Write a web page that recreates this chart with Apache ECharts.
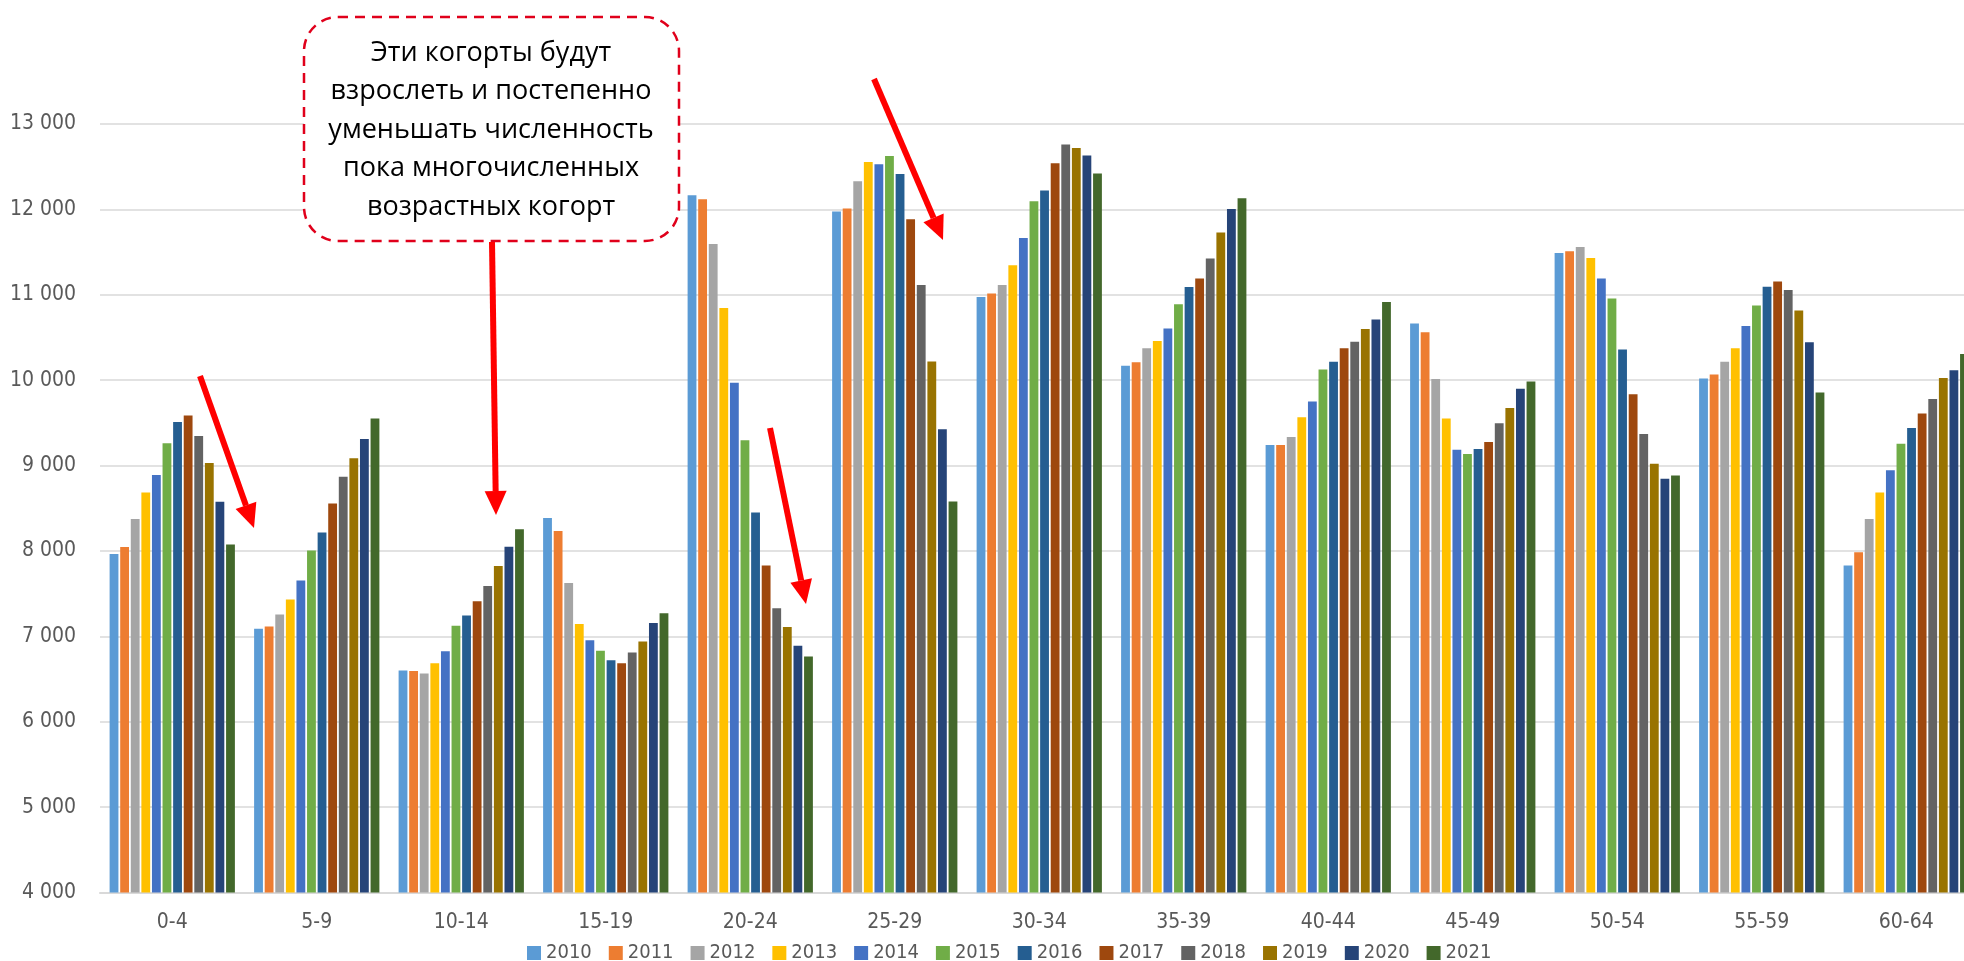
<!DOCTYPE html>
<html>
<head>
<meta charset="utf-8">
<script src="https://cdn.jsdelivr.net/npm/echarts@6/dist/echarts.min.js"></script>
<style>
  html, body { margin: 0; padding: 0; background: #fff; }
  #main { width: 1964px; height: 961px; }
</style>
</head>
<body>
<div id="main"></div>
<script>
// age groups on the x axis
var categories = ['0-4', '5-9', '10-14', '15-19', '20-24', '25-29', '30-34',
                  '35-39', '40-44', '45-49', '50-54', '55-59', '60-64'];
var years = ['2010', '2011', '2012', '2013', '2014', '2015',
             '2016', '2017', '2018', '2019', '2020', '2021'];

// values per year, one per age group
var y2010 = [7965, 7090, 6600, 8385, 12165, 11975, 10975, 10170, 9240, 10665, 11490, 10020, 7830];
var y2011 = [8045, 7115, 6595, 8235, 12120, 12010, 11015, 10210, 9240, 10560, 11510, 10065, 7985];
var y2012 = [8375, 7255, 6565, 7625, 11595, 12330, 11115, 10375, 9335, 10015, 11560, 10215, 8375];
var y2013 = [8685, 7430, 6685, 7145, 10845, 12555, 11345, 10460, 9565, 9550, 11430, 10375, 8685];
var y2014 = [8890, 7655, 6825, 6955, 9970, 12530, 11665, 10605, 9750, 9185, 11190, 10635, 8945];
var y2015 = [9260, 8005, 7125, 6830, 9295, 12625, 12095, 10890, 10125, 9135, 10955, 10875, 9255];
var y2016 = [9510, 8215, 7245, 6720, 8450, 12415, 12220, 11090, 10215, 9195, 10360, 11095, 9440];
var y2017 = [9585, 8555, 7410, 6685, 7830, 11885, 12540, 11190, 10375, 9275, 9835, 11155, 9610];
var y2018 = [9345, 8870, 7590, 6810, 7330, 11115, 12760, 11425, 10450, 9495, 9370, 11055, 9780];
var y2019 = [9030, 9085, 7825, 6940, 7110, 10220, 12720, 11730, 10600, 9675, 9020, 10815, 10025];
var y2020 = [8575, 9310, 8050, 7155, 6890, 9425, 12630, 12005, 10710, 9900, 8845, 10445, 10115];
var y2021 = [8075, 9550, 8255, 7270, 6765, 8580, 12420, 12130, 10915, 9985, 8885, 9855, 10305];

var seriesValues = [y2010, y2011, y2012, y2013, y2014, y2015,
                    y2016, y2017, y2018, y2019, y2020, y2021];

var colors = ['#5B9BD5', '#ED7D31', '#A5A5A5', '#FFC000', '#4472C4', '#70AD47',
              '#255E91', '#9E480E', '#636363', '#997300', '#264478', '#43682B'];

var noteLines = ['Эти когорты будут', 'взрослеть и постепенно', 'уменьшать численность',
                 'пока многочисленных', 'возрастных когорт'];

var axisFont = "'Liberation Sans Narrow', 'DejaVu Sans Condensed', 'Liberation Sans', sans-serif";

// red arrow = shaft + triangle head
function arrow(x1, y1, x2, y2) {
    var ang = Math.atan2(y2 - y1, x2 - x1);
    var len = 24, half = 11;
    var bx = x2 - Math.cos(ang) * len, by = y2 - Math.sin(ang) * len;
    var nx = -Math.sin(ang) * half, ny = Math.cos(ang) * half;
    return [
        {
            type: 'line', z: 100,
            shape: { x1: x1, y1: y1, x2: bx, y2: by },
            style: { stroke: '#ff0000', lineWidth: 6 }
        },
        {
            type: 'polygon', z: 100,
            shape: { points: [[x2, y2], [bx + nx, by + ny], [bx - nx, by - ny]] },
            style: { fill: '#ff0000' }
        }
    ];
}

var myChart = echarts.init(document.getElementById('main'));

var series = years.map(function (y, i) {
    return {
        name: y,
        type: 'bar',
        barGap: '20%',
        barCategoryGap: '13.3%',
        itemStyle: { color: colors[i] },
        data: seriesValues[i]
    };
});

var graphics = [
    {
        type: 'rect', z: 90,
        shape: { x: 304, y: 17, width: 375, height: 224, r: 34 },
        style: { fill: '#fff', stroke: '#e0001b', lineWidth: 2.5, lineDash: [10, 7] }
    },
    {
        type: 'text', z: 95,
        x: 491, y: 130,
        style: {
            text: noteLines.join('\n'),
            font: "27px 'Open Sans', 'Noto Sans', sans-serif",
            fill: '#000',
            align: 'center',
            verticalAlign: 'middle',
            lineHeight: 38.5
        }
    }
];
graphics = graphics
    .concat(arrow(200, 376, 254, 528))
    .concat(arrow(492, 242, 496, 515))
    .concat(arrow(770, 428, 806, 604))
    .concat(arrow(874, 79, 943, 240));

myChart.setOption({
    animation: false,
    backgroundColor: '#fff',
    color: colors,
    grid: { left: 100, top: 124, width: 1878.5, bottom: 68.5, outerBoundsMode: 'none', containLabel: false },
    legend: {
        data: years,
        left: 522,
        top: 938,
        icon: 'rect',
        itemWidth: 14,
        itemHeight: 14,
        itemGap: 17,
        textStyle: { color: '#595959', fontSize: 20, fontFamily: axisFont }
    },
    xAxis: {
        type: 'category',
        data: categories,
        axisLine: { lineStyle: { color: '#d9d9d9', width: 2 } },
        axisTick: { show: false },
        axisLabel: { color: '#595959', fontSize: 21, fontFamily: axisFont, margin: 20 }
    },
    yAxis: {
        type: 'value',
        min: 4000,
        max: 13000,
        interval: 1000,
        axisLine: { show: false },
        axisTick: { show: false },
        splitLine: { lineStyle: { color: '#d9d9d9', width: 1.5 } },
        axisLabel: {
            color: '#595959', fontSize: 21, fontFamily: axisFont, margin: 24,
            formatter: function (v) {
                return String(v).replace(/\B(?=(\d{3})+(?!\d))/g, ' ');
            }
        }
    },
    series: series,
    graphic: graphics
});
</script>
</body>
</html>
